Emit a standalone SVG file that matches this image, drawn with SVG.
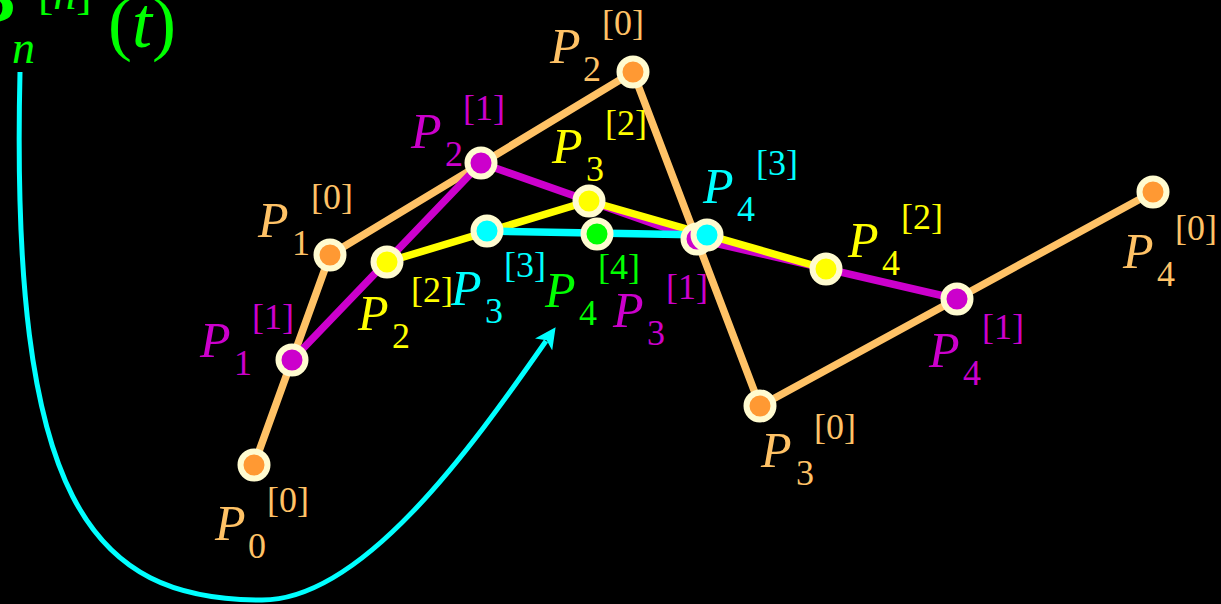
<svg xmlns="http://www.w3.org/2000/svg" width="1221" height="604" viewBox="0 0 1221 604" font-family="'Liberation Serif','DejaVu Serif',serif">
<style>
text{font-family:"Liberation Serif","DejaVu Serif",serif}
.P{font-size:50px;font-style:italic}
.s{font-size:36px}
.ln{fill:none;stroke-width:7.5;stroke-linejoin:round;stroke-linecap:round}
.pt{stroke:#fffbd0;stroke-width:6}
.o{fill:#ffc266}.m{fill:#cc00cc}.y{fill:#ffff00}.c{fill:#00ffff}.g{fill:#00ff00}
</style>
<defs>
<marker id="ah" viewBox="0 0 10 10" refX="2" refY="5" markerWidth="4.2" markerHeight="4.2" orient="auto" markerUnits="strokeWidth">
<path d="M0,0 L10,5 L0,10 L2.5,5 Z" fill="#00ffff"/>
</marker>
</defs>
<rect width="1221" height="604" fill="#000"/>
<g id="title" class="g">
<text x="-32" y="22" style="font-size:72px;font-style:italic;font-weight:bold">B</text>
<text x="38" y="9" style="font-size:46px">[<tspan style="font-style:italic">n</tspan>]</text>
<text x="12" y="63" style="font-size:46px;font-style:italic">n</text>
<text x="108" y="47" style="font-size:72px">(<tspan style="font-style:italic">t</tspan>)</text>
</g>
<g id="connectors">
<polyline class="ln" stroke="#ffc266" points="254,465 330,255 633,72 760,406 1153,192"/>
<polyline class="ln" stroke="#cc00cc" points="292,360 481,163 697,239 957,299"/>
<polyline class="ln" stroke="#ffff00" points="387,262 589,201 826,269"/>
<polyline class="ln" stroke="#00ffff" points="487,231 707,235"/>
<path d="M20,72 C10,500 90,600 262,600 C362,600 470,450 546,341" fill="none" stroke="#00ffff" stroke-width="5" marker-end="url(#ah)"/>
</g>
<g id="P0_0"><circle class="pt" cx="254" cy="465" r="13.5" fill="#ff9933"/>
<g class="o"><text class="P" x="215" y="540">P</text><text class="s" x="248" y="558">0</text><text class="s" x="267" y="512">[0]</text></g></g>
<g id="P1_0"><circle class="pt" cx="330" cy="255" r="13.5" fill="#ff9933"/>
<g class="o"><text class="P" x="258" y="237">P</text><text class="s" x="292" y="255">1</text><text class="s" x="311" y="209">[0]</text></g></g>
<g id="P2_0"><circle class="pt" cx="633" cy="72" r="13.5" fill="#ff9933"/>
<g class="o"><text class="P" x="550" y="63">P</text><text class="s" x="583" y="81">2</text><text class="s" x="602" y="35">[0]</text></g></g>
<g id="P3_0"><circle class="pt" cx="760" cy="406" r="13.5" fill="#ff9933"/>
<g class="o"><text class="P" x="761" y="467">P</text><text class="s" x="796" y="485">3</text><text class="s" x="814" y="439">[0]</text></g></g>
<g id="P4_0"><circle class="pt" cx="1153" cy="192" r="13.5" fill="#ff9933"/>
<g class="o"><text class="P" x="1123" y="268">P</text><text class="s" x="1157" y="286">4</text><text class="s" x="1175" y="240">[0]</text></g></g>
<g id="P1_1"><circle class="pt" cx="292" cy="360" r="13.5" fill="#cc00cc"/>
<g class="m"><text class="P" x="200" y="357">P</text><text class="s" x="234" y="375">1</text><text class="s" x="252" y="329">[1]</text></g></g>
<g id="P2_1"><circle class="pt" cx="481" cy="163" r="13.5" fill="#cc00cc"/>
<g class="m"><text class="P" x="411" y="148">P</text><text class="s" x="445" y="166">2</text><text class="s" x="463" y="120">[1]</text></g></g>
<g id="P3_1"><circle class="pt" cx="697" cy="239" r="13.5" fill="#cc00cc"/>
<g class="m"><text class="P" x="613" y="327">P</text><text class="s" x="647" y="345">3</text><text class="s" x="666" y="299">[1]</text></g></g>
<g id="P4_1"><circle class="pt" cx="957" cy="299" r="13.5" fill="#cc00cc"/>
<g class="m"><text class="P" x="929" y="367">P</text><text class="s" x="963" y="385">4</text><text class="s" x="982" y="339">[1]</text></g></g>
<g id="P2_2"><circle class="pt" cx="387" cy="262" r="13.5" fill="#ffff00"/>
<g class="y"><text class="P" x="358" y="330">P</text><text class="s" x="392" y="348">2</text><text class="s" x="411" y="302">[2]</text></g></g>
<g id="P3_2"><circle class="pt" cx="589" cy="201" r="13.5" fill="#ffff00"/>
<g class="y"><text class="P" x="552" y="163">P</text><text class="s" x="586" y="181">3</text><text class="s" x="605" y="135">[2]</text></g></g>
<g id="P4_2"><circle class="pt" cx="826" cy="269" r="13.5" fill="#ffff00"/>
<g class="y"><text class="P" x="848" y="257">P</text><text class="s" x="882" y="275">4</text><text class="s" x="901" y="229">[2]</text></g></g>
<g id="P3_3"><circle class="pt" cx="487" cy="231" r="13.5" fill="#00ffff"/>
<g class="c"><text class="P" x="451" y="305">P</text><text class="s" x="485" y="323">3</text><text class="s" x="504" y="277">[3]</text></g></g>
<g id="P4_3"><circle class="pt" cx="707" cy="235" r="13.5" fill="#00ffff"/>
<g class="c"><text class="P" x="703" y="203">P</text><text class="s" x="737" y="221">4</text><text class="s" x="756" y="175">[3]</text></g></g>
<g id="P4_4"><circle class="pt" cx="597" cy="234" r="13.5" fill="#00ff00"/>
<g class="g"><text class="P" x="545" y="307">P</text><text class="s" x="579" y="325">4</text><text class="s" x="598" y="279">[4]</text></g></g>
</svg>
